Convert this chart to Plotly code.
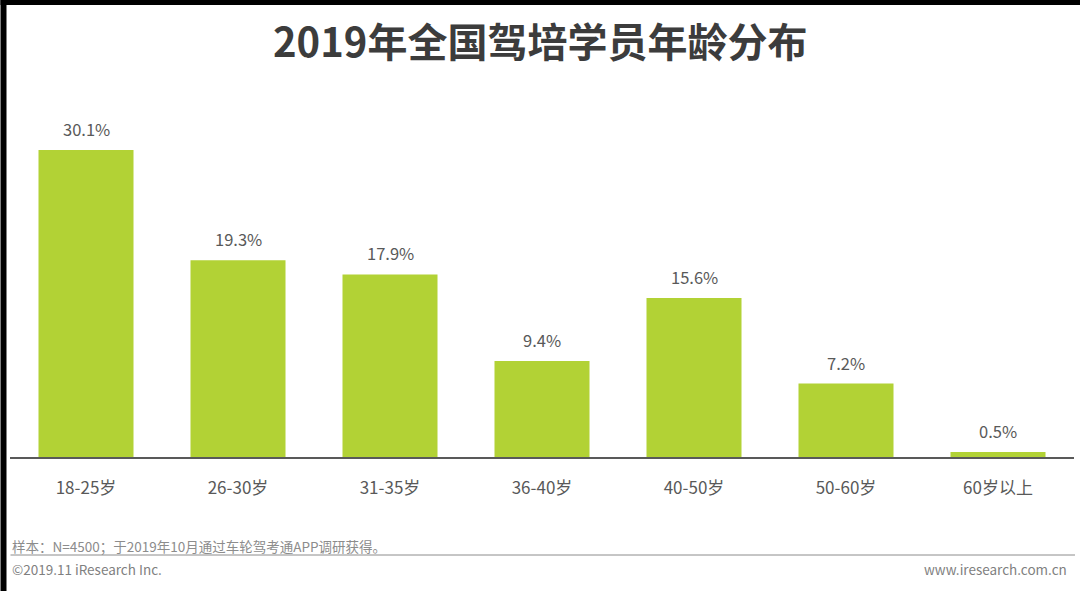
import plotly.graph_objects as go

categories = ["18-25岁", "26-30岁", "31-35岁", "36-40岁", "40-50岁", "50-60岁", "60岁以上"]
values = [30.1, 19.3, 17.9, 9.4, 15.6, 7.2, 0.5]
value_labels = ["30.1%", "19.3%", "17.9%", "9.4%", "15.6%", "7.2%", "0.5%"]

title_text = "2019年全国驾培学员年龄分布"
note_text = "样本：N=4500；于2019年10月通过车轮驾考通APP调研获得。"
copyright_text = "©2019.11 iResearch Inc."
site_text = "www.iresearch.com.cn"

W, H = 1080, 591
ML, MR, MT, MB = 9.5, 6, 100, 134
PW = W - ML - MR
PH = H - MT - MB

def px(x):
    return (x - ML) / PW

def py(y):
    return (H - MB - y) / PH

FONT = "Noto Sans CJK SC"
BAR = "#B2D235"
TXT = "#595959"

fig = go.Figure()
fig.add_trace(go.Bar(
    x=categories, y=values,
    marker=dict(color=BAR, line=dict(width=0)),
    hoverinfo="skip",
))

annotations = []
for c, v, t in zip(categories, values, value_labels):
    annotations.append(dict(x=c, y=v, text=t, xref="x", yref="y",
                            showarrow=False, yanchor="bottom", yshift=7,
                            font=dict(family=FONT, size=16.5, color=TXT)))

annotations += [
    dict(text="<b>" + title_text + "</b>", x=px(540), y=py(40), xref="paper", yref="paper",
         xanchor="center", yanchor="middle", showarrow=False,
         font=dict(family=FONT, size=40, color="#3C3C3C")),
    dict(text=note_text, x=px(10), y=py(546), xref="paper", yref="paper",
         xanchor="left", yanchor="middle", showarrow=False,
         font=dict(family=FONT, size=13.5, color="#8C8C8C")),
    dict(text=copyright_text, x=px(10), y=py(569), xref="paper", yref="paper",
         xanchor="left", yanchor="middle", showarrow=False,
         font=dict(family=FONT, size=13.5, color="#7F7F7F")),
    dict(text=site_text, x=px(1069), y=py(569), xref="paper", yref="paper",
         xanchor="right", yanchor="middle", showarrow=False,
         font=dict(family=FONT, size=13.5, color="#7F7F7F")),
]

shapes = [
    dict(type="line", xref="paper", yref="paper", x0=px(10), x1=px(1075), y0=py(555), y1=py(555),
         line=dict(color="#8C8C8C", width=1)),
    dict(type="rect", xref="paper", yref="paper", x0=px(0), x1=px(1080), y0=py(0), y1=py(5),
         fillcolor="black", line=dict(width=0), layer="above"),
    dict(type="rect", xref="paper", yref="paper", x0=px(0), x1=px(6), y0=py(0), y1=py(591),
         fillcolor="black", line=dict(width=0), layer="above"),
]

fig.update_layout(
    width=W, height=H,
    margin=dict(l=ML, r=MR, t=MT, b=MB, pad=0),
    paper_bgcolor="white", plot_bgcolor="white",
    bargap=0.375,
    showlegend=False,
    annotations=annotations,
    shapes=shapes,
    font=dict(family=FONT),
)
fig.update_xaxes(
    showgrid=False, zeroline=False,
    showline=True, linecolor="#595959", linewidth=1.5,
    ticks="", ticklabelstandoff=15,
    tickfont=dict(family=FONT, size=17, color=TXT),
)
fig.update_yaxes(
    range=[0, 35], visible=False, showgrid=False, zeroline=False,
)

fig.write_html("out.html", config={"displayModeBar": False},
               post_script="document.body.style.margin='0px';document.body.style.overflow='hidden';")
